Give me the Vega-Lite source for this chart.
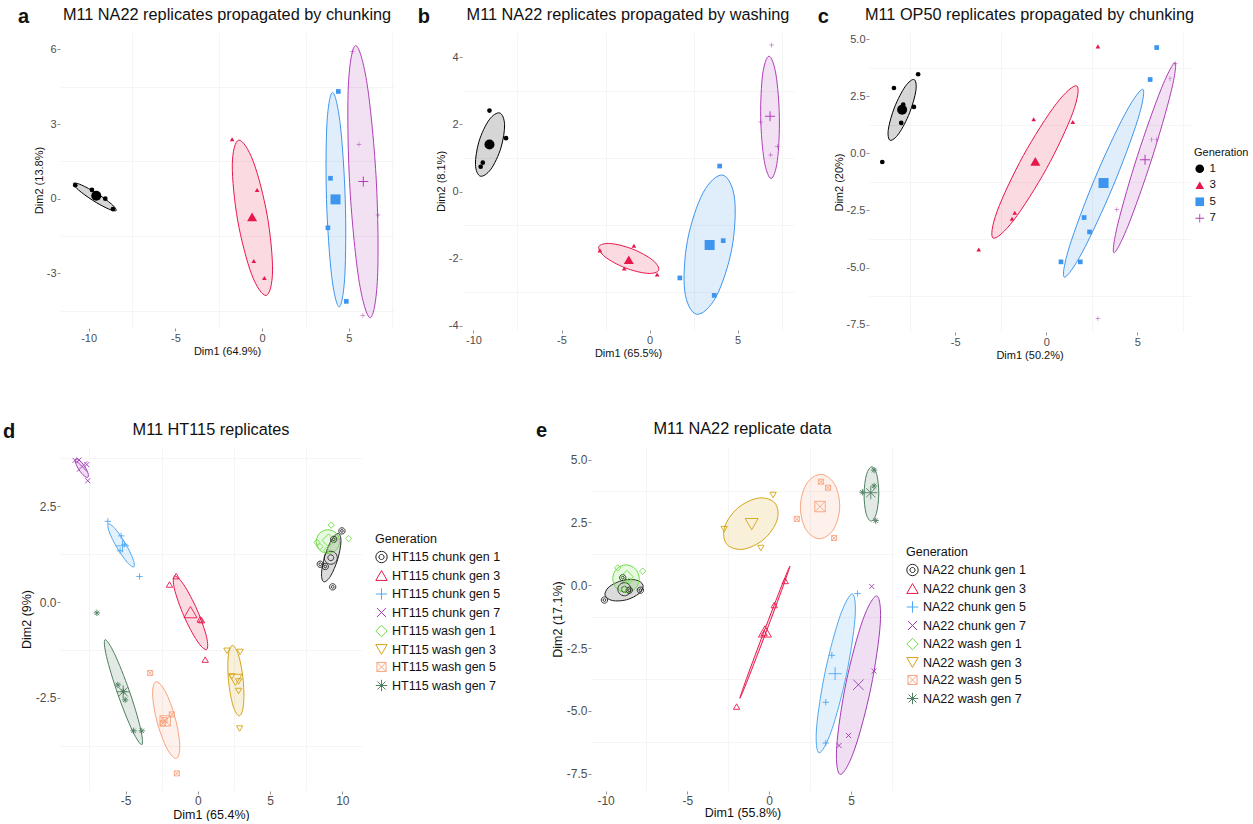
{
"$schema": "https://vega.github.io/schema/vega-lite/v6.json",
"background": "white",
"padding": {"left": 2, "top": 6, "right": 0, "bottom": 0},
"config": {
  "font": "Liberation Sans",
  "locale": {"number": {"decimal": ".", "thousands": ",", "grouping": [3], "currency": ["$", ""], "minus": "-"}},
  "view": {"stroke": null},
  "axis": {"domain": false, "grid": true, "gridColor": "#E6E6E6", "gridWidth": 0.8, "tickColor": "#777777", "tickSize": 3, "tickWidth": 0.8, "labelColor": "#4D4D4D", "labelFontSize": 11, "titleFontSize": 11, "titleFontWeight": "normal", "titleColor": "#111111", "labelPadding": 1, "titlePadding": 2},
  "title": {"fontSize": 16.3, "fontWeight": "normal", "anchor": "middle", "offset": 9, "color": "#111111"},
  "legend": {"titleFontWeight": "normal", "titleColor": "#111111", "labelColor": "#111111"}
},
"datasets": {
  "a_pts": [
    {"g":"1","x":-10.77,"y":0.54,"m":"p"},{"g":"1","x":-9.81,"y":0.35,"m":"p"},{"g":"1","x":-9.04,"y":0.0,"m":"p"},{"g":"1","x":-8.6,"y":-0.42,"m":"p"},{"g":"1","x":-9.56,"y":0.12,"m":"m"},
    {"g":"3","x":-1.73,"y":2.39,"m":"p"},{"g":"3","x":-0.29,"y":0.35,"m":"p"},{"g":"3","x":-0.48,"y":-2.51,"m":"p"},{"g":"3","x":0.13,"y":-3.19,"m":"p"},{"g":"3","x":-0.58,"y":-0.73,"m":"m"},
    {"g":"5","x":4.39,"y":4.31,"m":"p"},{"g":"5","x":3.94,"y":0.82,"m":"p"},{"g":"5","x":3.79,"y":-1.17,"m":"p"},{"g":"5","x":4.85,"y":-4.13,"m":"p"},{"g":"5","x":4.23,"y":-0.03,"m":"m"},
    {"g":"7","x":5.19,"y":5.91,"m":"p"},{"g":"7","x":5.58,"y":2.19,"m":"p"},{"g":"7","x":6.68,"y":-0.66,"m":"p"},{"g":"7","x":5.81,"y":-4.69,"m":"p"},{"g":"7","x":5.83,"y":0.69,"m":"m"}
  ],
  "a_ell": [
    {"g":"1","i":0,"x":-8.41,"y":-0.475},{"g":"1","i":1,"x":-8.855,"y":-0.414},{"g":"1","i":2,"x":-9.76,"y":-0.07},{"g":"1","i":3,"x":-10.595,"y":0.356},{"g":"1","i":4,"x":-10.87,"y":0.615},{"g":"1","i":5,"x":-10.425,"y":0.554},{"g":"1","i":6,"x":-9.52,"y":0.21},{"g":"1","i":7,"x":-8.685,"y":-0.216},
    {"g":"3","i":0,"x":-1.35,"y":2.35},{"g":"3","i":1,"x":-0.518,"y":1.51},{"g":"3","i":2,"x":0.29,"y":-0.665},{"g":"3","i":3,"x":0.6,"y":-2.902},{"g":"3","i":4,"x":0.23,"y":-3.89},{"g":"3","i":5,"x":-0.602,"y":-3.05},{"g":"3","i":6,"x":-1.41,"y":-0.875},{"g":"3","i":7,"x":-1.72,"y":1.362},
    {"g":"5","i":0,"x":4.06,"y":4.27},{"g":"5","i":1,"x":4.497,"y":3.008},{"g":"5","i":2,"x":4.79,"y":-0.04},{"g":"5","i":3,"x":4.766,"y":-3.088},{"g":"5","i":4,"x":4.44,"y":-4.35},{"g":"5","i":5,"x":4.003,"y":-3.088},{"g":"5","i":6,"x":3.71,"y":-0.04},{"g":"5","i":7,"x":3.734,"y":3.008},
    {"g":"7","i":0,"x":5.39,"y":6.155},{"g":"7","i":1,"x":6.057,"y":4.574},{"g":"7","i":2,"x":6.58,"y":0.715},{"g":"7","i":3,"x":6.651,"y":-3.162},{"g":"7","i":4,"x":6.23,"y":-4.785},{"g":"7","i":5,"x":5.563,"y":-3.204},{"g":"7","i":6,"x":5.04,"y":0.655},{"g":"7","i":7,"x":4.969,"y":4.532}
  ],
  "b_pts": [
    {"g":"1","x":-9.09,"y":2.41,"m":"p"},{"g":"1","x":-8.15,"y":1.59,"m":"p"},{"g":"1","x":-9.47,"y":0.86,"m":"p"},{"g":"1","x":-9.59,"y":0.74,"m":"p"},{"g":"1","x":-9.09,"y":1.4,"m":"m"},
    {"g":"3","x":-2.82,"y":-1.75,"m":"p"},{"g":"3","x":-0.89,"y":-1.61,"m":"p"},{"g":"3","x":0.43,"y":-2.47,"m":"p"},{"g":"3","x":-1.44,"y":-2.29,"m":"p"},{"g":"3","x":-1.18,"y":-2.03,"m":"m"},
    {"g":"5","x":3.98,"y":0.76,"m":"p"},{"g":"5","x":4.18,"y":-1.46,"m":"p"},{"g":"5","x":1.72,"y":-2.57,"m":"p"},{"g":"5","x":3.67,"y":-3.09,"m":"p"},{"g":"5","x":3.41,"y":-1.59,"m":"m"},
    {"g":"7","x":6.93,"y":4.36,"m":"p"},{"g":"7","x":6.31,"y":2.07,"m":"p"},{"g":"7","x":7.25,"y":1.35,"m":"p"},{"g":"7","x":6.88,"y":1.09,"m":"p"},{"g":"7","x":6.84,"y":2.24,"m":"m"}
  ],
  "b_ell": [
    {"g":"1","i":0,"x":-8.51,"y":2.34},{"g":"1","i":1,"x":-8.233,"y":1.994},{"g":"1","i":2,"x":-8.44,"y":1.3},{"g":"1","i":3,"x":-9.011,"y":0.665},{"g":"1","i":4,"x":-9.61,"y":0.46},{"g":"1","i":5,"x":-9.887,"y":0.806},{"g":"1","i":6,"x":-9.68,"y":1.5},{"g":"1","i":7,"x":-9.109,"y":2.135},
    {"g":"3","i":0,"x":0.52,"y":-2.34},{"g":"3","i":1,"x":-0.126,"y":-2.435},{"g":"3","i":2,"x":-1.39,"y":-2.27},{"g":"3","i":3,"x":-2.531,"y":-1.941},{"g":"3","i":4,"x":-2.88,"y":-1.64},{"g":"3","i":5,"x":-2.234,"y":-1.545},{"g":"3","i":6,"x":-0.97,"y":-1.71},{"g":"3","i":7,"x":0.171,"y":-2.039},
    {"g":"5","i":0,"x":4.15,"y":0.49},{"g":"5","i":1,"x":4.824,"y":-0.201},{"g":"5","i":2,"x":4.67,"y":-1.7},{"g":"5","i":3,"x":3.778,"y":-3.129},{"g":"5","i":4,"x":2.67,"y":-3.65},{"g":"5","i":5,"x":1.996,"y":-2.959},{"g":"5","i":6,"x":2.15,"y":-1.46},{"g":"5","i":7,"x":3.042,"y":-0.031},
    {"g":"7","i":0,"x":6.78,"y":4.03},{"g":"7","i":1,"x":7.172,"y":3.497},{"g":"7","i":2,"x":7.37,"y":2.21},{"g":"7","i":3,"x":7.257,"y":0.923},{"g":"7","i":4,"x":6.9,"y":0.39},{"g":"7","i":5,"x":6.508,"y":0.923},{"g":"7","i":6,"x":6.31,"y":2.21},{"g":"7","i":7,"x":6.423,"y":3.497}
  ],
  "c_pts": [
    {"g":"1","x":-8.37,"y":2.86,"m":"p"},{"g":"1","x":-7.04,"y":3.46,"m":"p"},{"g":"1","x":-7.27,"y":2.03,"m":"p"},{"g":"1","x":-7.86,"y":2.13,"m":"p"},{"g":"1","x":-7.97,"y":1.33,"m":"p"},{"g":"1","x":-9.01,"y":-0.38,"m":"p"},{"g":"1","x":-7.92,"y":1.91,"m":"m"},
    {"g":"3","x":2.84,"y":4.68,"m":"p"},{"g":"3","x":-0.69,"y":1.49,"m":"p"},{"g":"3","x":1.46,"y":1.37,"m":"p"},{"g":"3","x":-1.73,"y":-2.6,"m":"p"},{"g":"3","x":-1.88,"y":-2.86,"m":"p"},{"g":"3","x":-3.71,"y":-4.21,"m":"p"},{"g":"3","x":-0.6,"y":-0.35,"m":"m"},
    {"g":"5","x":6.07,"y":4.63,"m":"p"},{"g":"5","x":5.71,"y":3.23,"m":"p"},{"g":"5","x":2.08,"y":-2.81,"m":"p"},{"g":"5","x":2.38,"y":-3.44,"m":"p"},{"g":"5","x":0.81,"y":-4.75,"m":"p"},{"g":"5","x":1.87,"y":-4.75,"m":"p"},{"g":"5","x":3.15,"y":-1.3,"m":"m"},
    {"g":"7","x":7.08,"y":3.93,"m":"p"},{"g":"7","x":6.8,"y":3.27,"m":"p"},{"g":"7","x":5.8,"y":0.6,"m":"p"},{"g":"7","x":6.07,"y":0.6,"m":"p"},{"g":"7","x":3.88,"y":-2.46,"m":"p"},{"g":"7","x":2.84,"y":-7.23,"m":"p"},{"g":"7","x":5.43,"y":-0.28,"m":"m"}
  ],
  "c_ell": [
    {"g":"1","i":0,"x":-7.26,"y":3.23},{"g":"1","i":1,"x":-7.163,"y":2.749},{"g":"1","i":2,"x":-7.51,"y":1.77},{"g":"1","i":3,"x":-8.097,"y":0.868},{"g":"1","i":4,"x":-8.58,"y":0.57},{"g":"1","i":5,"x":-8.677,"y":1.051},{"g":"1","i":6,"x":-8.33,"y":2.03},{"g":"1","i":7,"x":-7.743,"y":2.932},
    {"g":"3","i":0,"x":1.68,"y":2.95},{"g":"3","i":1,"x":1.459,"y":1.777},{"g":"3","i":2,"x":0.02,"y":-0.66},{"g":"3","i":3,"x":-1.794,"y":-2.933},{"g":"3","i":4,"x":-2.92,"y":-3.71},{"g":"3","i":5,"x":-2.699,"y":-2.537},{"g":"3","i":6,"x":-1.26,"y":-0.1},{"g":"3","i":7,"x":0.554,"y":2.173},
    {"g":"5","i":0,"x":5.31,"y":2.8},{"g":"5","i":1,"x":5.031,"y":1.476},{"g":"5","i":2,"x":3.65,"y":-1.48},{"g":"5","i":3,"x":1.976,"y":-4.336},{"g":"5","i":4,"x":0.99,"y":-5.42},{"g":"5","i":5,"x":1.269,"y":-4.096},{"g":"5","i":6,"x":2.65,"y":-1.14},{"g":"5","i":7,"x":4.324,"y":1.716},
    {"g":"7","i":0,"x":7.08,"y":3.97},{"g":"7","i":1,"x":6.857,"y":2.681},{"g":"7","i":2,"x":5.78,"y":-0.29},{"g":"7","i":3,"x":4.481,"y":-3.202},{"g":"7","i":4,"x":3.72,"y":-4.35},{"g":"7","i":5,"x":3.943,"y":-3.061},{"g":"7","i":6,"x":5.02,"y":-0.09},{"g":"7","i":7,"x":6.319,"y":2.822}
  ],
  "d_pts": [
    {"g":"HT115 chunk gen 1","x":9.97,"y":1.86,"m":"p"},{"g":"HT115 chunk gen 1","x":9.4,"y":1.64,"m":"p"},{"g":"HT115 chunk gen 1","x":8.47,"y":0.99,"m":"p"},{"g":"HT115 chunk gen 1","x":8.82,"y":0.93,"m":"p"},{"g":"HT115 chunk gen 1","x":9.33,"y":0.4,"m":"p"},{"g":"HT115 chunk gen 1","x":9.2,"y":1.16,"m":"m"},
    {"g":"HT115 chunk gen 3","x":-1.5,"y":0.68,"m":"p"},{"g":"HT115 chunk gen 3","x":-1.96,"y":0.46,"m":"p"},{"g":"HT115 chunk gen 3","x":0.16,"y":-0.45,"m":"p"},{"g":"HT115 chunk gen 3","x":0.26,"y":-0.47,"m":"p"},{"g":"HT115 chunk gen 3","x":0.51,"y":-1.5,"m":"p"},{"g":"HT115 chunk gen 3","x":-0.51,"y":-0.26,"m":"m"},
    {"g":"HT115 chunk gen 5","x":-6.23,"y":2.11,"m":"p"},{"g":"HT115 chunk gen 5","x":-5.31,"y":1.73,"m":"p"},{"g":"HT115 chunk gen 5","x":-5.08,"y":1.51,"m":"p"},{"g":"HT115 chunk gen 5","x":-5.38,"y":1.34,"m":"p"},{"g":"HT115 chunk gen 5","x":-4.04,"y":0.67,"m":"p"},{"g":"HT115 chunk gen 5","x":-5.21,"y":1.47,"m":"m"},
    {"g":"HT115 chunk gen 7","x":-8.5,"y":3.7,"m":"p"},{"g":"HT115 chunk gen 7","x":-8.22,"y":3.71,"m":"p"},{"g":"HT115 chunk gen 7","x":-7.69,"y":3.59,"m":"p"},{"g":"HT115 chunk gen 7","x":-7.62,"y":3.17,"m":"p"},{"g":"HT115 chunk gen 7","x":-8.01,"y":3.54,"m":"m"},
    {"g":"HT115 wash gen 1","x":9.23,"y":2.01,"m":"p"},{"g":"HT115 wash gen 1","x":10.43,"y":1.66,"m":"p"},{"g":"HT115 wash gen 1","x":8.24,"y":1.56,"m":"p"},{"g":"HT115 wash gen 1","x":8.45,"y":1.45,"m":"p"},{"g":"HT115 wash gen 1","x":8.9,"y":1.35,"m":"p"},{"g":"HT115 wash gen 1","x":9.05,"y":1.61,"m":"m"},
    {"g":"HT115 wash gen 3","x":2.01,"y":-1.27,"m":"p"},{"g":"HT115 wash gen 3","x":2.93,"y":-1.3,"m":"p"},{"g":"HT115 wash gen 3","x":2.35,"y":-1.94,"m":"p"},{"g":"HT115 wash gen 3","x":2.82,"y":-2.07,"m":"p"},{"g":"HT115 wash gen 3","x":2.82,"y":-2.32,"m":"p"},{"g":"HT115 wash gen 3","x":2.89,"y":-3.3,"m":"p"},{"g":"HT115 wash gen 3","x":2.6,"y":-2.03,"m":"m"},
    {"g":"HT115 wash gen 5","x":-3.3,"y":-1.85,"m":"p"},{"g":"HT115 wash gen 5","x":-1.8,"y":-2.93,"m":"p"},{"g":"HT115 wash gen 5","x":-2.31,"y":-3.08,"m":"p"},{"g":"HT115 wash gen 5","x":-2.42,"y":-3.16,"m":"p"},{"g":"HT115 wash gen 5","x":-1.45,"y":-4.47,"m":"p"},{"g":"HT115 wash gen 5","x":-2.26,"y":-3.1,"m":"m"},
    {"g":"HT115 wash gen 7","x":-6.99,"y":-0.28,"m":"p"},{"g":"HT115 wash gen 7","x":-5.54,"y":-2.16,"m":"p"},{"g":"HT115 wash gen 7","x":-5.15,"y":-2.33,"m":"p"},{"g":"HT115 wash gen 7","x":-5.03,"y":-2.55,"m":"p"},{"g":"HT115 wash gen 7","x":-4.45,"y":-3.36,"m":"p"},{"g":"HT115 wash gen 7","x":-3.88,"y":-3.36,"m":"p"},{"g":"HT115 wash gen 7","x":-5.17,"y":-2.34,"m":"m"}
  ],
  "d_ell": [
    {"g":"HT115 chunk gen 1","i":0,"x":9.74,"y":1.79},{"g":"HT115 chunk gen 1","i":1,"x":9.902,"y":1.57},{"g":"HT115 chunk gen 1","i":2,"x":9.67,"y":1.11},{"g":"HT115 chunk gen 1","i":3,"x":9.181,"y":0.679},{"g":"HT115 chunk gen 1","i":4,"x":8.72,"y":0.53},{"g":"HT115 chunk gen 1","i":5,"x":8.558,"y":0.75},{"g":"HT115 chunk gen 1","i":6,"x":8.79,"y":1.21},{"g":"HT115 chunk gen 1","i":7,"x":9.279,"y":1.641},
    {"g":"HT115 chunk gen 3","i":0,"x":-1.62,"y":0.68},{"g":"HT115 chunk gen 3","i":1,"x":-0.97,"y":0.453},{"g":"HT115 chunk gen 3","i":2,"x":-0.05,"y":-0.203},{"g":"HT115 chunk gen 3","i":3,"x":0.6,"y":-0.904},{"g":"HT115 chunk gen 3","i":4,"x":0.6,"y":-1.24},{"g":"HT115 chunk gen 3","i":5,"x":-0.05,"y":-1.013},{"g":"HT115 chunk gen 3","i":6,"x":-0.97,"y":-0.357},{"g":"HT115 chunk gen 3","i":7,"x":-1.62,"y":0.344},
    {"g":"HT115 chunk gen 5","i":0,"x":-6.19,"y":2.04},{"g":"HT115 chunk gen 5","i":1,"x":-5.734,"y":1.921},{"g":"HT115 chunk gen 5","i":2,"x":-5.03,"y":1.543},{"g":"HT115 chunk gen 5","i":3,"x":-4.49,"y":1.129},{"g":"HT115 chunk gen 5","i":4,"x":-4.43,"y":0.92},{"g":"HT115 chunk gen 5","i":5,"x":-4.886,"y":1.039},{"g":"HT115 chunk gen 5","i":6,"x":-5.59,"y":1.417},{"g":"HT115 chunk gen 5","i":7,"x":-6.13,"y":1.831},
    {"g":"HT115 chunk gen 7","i":0,"x":-8.45,"y":3.74},{"g":"HT115 chunk gen 7","i":1,"x":-8.193,"y":3.703},{"g":"HT115 chunk gen 7","i":2,"x":-7.84,"y":3.547},{"g":"HT115 chunk gen 7","i":3,"x":-7.599,"y":3.364},{"g":"HT115 chunk gen 7","i":4,"x":-7.61,"y":3.26},{"g":"HT115 chunk gen 7","i":5,"x":-7.867,"y":3.297},{"g":"HT115 chunk gen 7","i":6,"x":-8.22,"y":3.453},{"g":"HT115 chunk gen 7","i":7,"x":-8.461,"y":3.636},
    {"g":"HT115 wash gen 1","i":0,"x":9.81,"y":1.58},{"g":"HT115 wash gen 1","i":1,"x":9.573,"y":1.799},{"g":"HT115 wash gen 1","i":2,"x":9.0,"y":1.89},{"g":"HT115 wash gen 1","i":3,"x":8.427,"y":1.799},{"g":"HT115 wash gen 1","i":4,"x":8.19,"y":1.58},{"g":"HT115 wash gen 1","i":5,"x":8.427,"y":1.361},{"g":"HT115 wash gen 1","i":6,"x":9.0,"y":1.27},{"g":"HT115 wash gen 1","i":7,"x":9.573,"y":1.361},
    {"g":"HT115 wash gen 3","i":0,"x":2.4,"y":-1.13},{"g":"HT115 wash gen 3","i":1,"x":2.828,"y":-1.399},{"g":"HT115 wash gen 3","i":2,"x":3.14,"y":-2.05},{"g":"HT115 wash gen 3","i":3,"x":3.153,"y":-2.701},{"g":"HT115 wash gen 3","i":4,"x":2.86,"y":-2.97},{"g":"HT115 wash gen 3","i":5,"x":2.432,"y":-2.701},{"g":"HT115 wash gen 3","i":6,"x":2.12,"y":-2.05},{"g":"HT115 wash gen 3","i":7,"x":2.107,"y":-1.399},
    {"g":"HT115 wash gen 5","i":0,"x":-2.9,"y":-2.08},{"g":"HT115 wash gen 5","i":1,"x":-2.254,"y":-2.328},{"g":"HT115 wash gen 5","i":2,"x":-1.57,"y":-3.017},{"g":"HT115 wash gen 5","i":3,"x":-1.25,"y":-3.743},{"g":"HT115 wash gen 5","i":4,"x":-1.48,"y":-4.08},{"g":"HT115 wash gen 5","i":5,"x":-2.126,"y":-3.832},{"g":"HT115 wash gen 5","i":6,"x":-2.81,"y":-3.143},{"g":"HT115 wash gen 5","i":7,"x":-3.13,"y":-2.417},
    {"g":"HT115 wash gen 7","i":0,"x":-6.42,"y":-0.98},{"g":"HT115 wash gen 7","i":1,"x":-5.772,"y":-1.344},{"g":"HT115 wash gen 7","i":2,"x":-4.76,"y":-2.298},{"g":"HT115 wash gen 7","i":3,"x":-3.976,"y":-3.282},{"g":"HT115 wash gen 7","i":4,"x":-3.88,"y":-3.72},{"g":"HT115 wash gen 7","i":5,"x":-4.528,"y":-3.356},{"g":"HT115 wash gen 7","i":6,"x":-5.54,"y":-2.402},{"g":"HT115 wash gen 7","i":7,"x":-6.324,"y":-1.418}
  ],
  "e_pts": [
    {"g":"NA22 chunk gen 1","x":-10.07,"y":-0.59,"m":"p"},{"g":"NA22 chunk gen 1","x":-7.87,"y":-0.2,"m":"p"},{"g":"NA22 chunk gen 1","x":-8.95,"y":0.3,"m":"p"},{"g":"NA22 chunk gen 1","x":-8.55,"y":-0.2,"m":"p"},{"g":"NA22 chunk gen 1","x":-8.85,"y":-0.16,"m":"m"},
    {"g":"NA22 chunk gen 3","x":-1.99,"y":-4.83,"m":"p"},{"g":"NA22 chunk gen 3","x":-0.31,"y":-1.9,"m":"p"},{"g":"NA22 chunk gen 3","x":0.31,"y":-0.79,"m":"p"},{"g":"NA22 chunk gen 3","x":0.98,"y":0.17,"m":"p"},{"g":"NA22 chunk gen 3","x":-0.26,"y":-1.84,"m":"m"},
    {"g":"NA22 chunk gen 5","x":5.4,"y":-0.33,"m":"p"},{"g":"NA22 chunk gen 5","x":3.83,"y":-2.79,"m":"p"},{"g":"NA22 chunk gen 5","x":3.46,"y":-4.66,"m":"p"},{"g":"NA22 chunk gen 5","x":3.46,"y":-6.28,"m":"p"},{"g":"NA22 chunk gen 5","x":4.03,"y":-3.52,"m":"m"},
    {"g":"NA22 chunk gen 7","x":6.27,"y":-0.05,"m":"p"},{"g":"NA22 chunk gen 7","x":6.41,"y":-3.42,"m":"p"},{"g":"NA22 chunk gen 7","x":4.85,"y":-5.98,"m":"p"},{"g":"NA22 chunk gen 7","x":4.27,"y":-6.38,"m":"p"},{"g":"NA22 chunk gen 7","x":5.45,"y":-3.96,"m":"m"},
    {"g":"NA22 wash gen 1","x":-9.26,"y":0.69,"m":"p"},{"g":"NA22 wash gen 1","x":-7.73,"y":0.56,"m":"p"},{"g":"NA22 wash gen 1","x":-8.85,"y":-0.16,"m":"p"},{"g":"NA22 wash gen 1","x":-8.55,"y":0.17,"m":"p"},{"g":"NA22 wash gen 1","x":-8.7,"y":0.33,"m":"m"},
    {"g":"NA22 wash gen 3","x":0.24,"y":3.59,"m":"p"},{"g":"NA22 wash gen 3","x":-2.75,"y":2.23,"m":"p"},{"g":"NA22 wash gen 3","x":-0.51,"y":1.48,"m":"p"},{"g":"NA22 wash gen 3","x":-1.07,"y":2.43,"m":"m"},
    {"g":"NA22 wash gen 5","x":3.16,"y":4.12,"m":"p"},{"g":"NA22 wash gen 5","x":3.6,"y":3.88,"m":"p"},{"g":"NA22 wash gen 5","x":1.69,"y":2.64,"m":"p"},{"g":"NA22 wash gen 5","x":3.97,"y":1.88,"m":"p"},{"g":"NA22 wash gen 5","x":3.11,"y":3.13,"m":"m"},
    {"g":"NA22 wash gen 7","x":6.41,"y":4.58,"m":"p"},{"g":"NA22 wash gen 7","x":5.7,"y":3.7,"m":"p"},{"g":"NA22 wash gen 7","x":6.41,"y":3.95,"m":"p"},{"g":"NA22 wash gen 7","x":6.51,"y":2.57,"m":"p"},{"g":"NA22 wash gen 7","x":6.21,"y":3.68,"m":"m"}
  ],
  "e_ell": [
    {"g":"NA22 chunk gen 1","i":0,"x":-7.71,"y":0.0},{"g":"NA22 chunk gen 1","i":1,"x":-7.944,"y":-0.327},{"g":"NA22 chunk gen 1","i":2,"x":-8.72,"y":-0.58},{"g":"NA22 chunk gen 1","i":3,"x":-9.584,"y":-0.61},{"g":"NA22 chunk gen 1","i":4,"x":-10.03,"y":-0.4},{"g":"NA22 chunk gen 1","i":5,"x":-9.796,"y":-0.073},{"g":"NA22 chunk gen 1","i":6,"x":-9.02,"y":0.18},{"g":"NA22 chunk gen 1","i":7,"x":-8.156,"y":0.21},
    {"g":"NA22 chunk gen 3","i":0,"x":1.27,"y":0.76},{"g":"NA22 chunk gen 3","i":1,"x":0.864,"y":-0.024},{"g":"NA22 chunk gen 3","i":2,"x":-0.2,"y":-1.89},{"g":"NA22 chunk gen 3","i":3,"x":-1.299,"y":-3.744},{"g":"NA22 chunk gen 3","i":4,"x":-1.79,"y":-4.5},{"g":"NA22 chunk gen 3","i":5,"x":-1.384,"y":-3.716},{"g":"NA22 chunk gen 3","i":6,"x":-0.32,"y":-1.85},{"g":"NA22 chunk gen 3","i":7,"x":0.779,"y":0.004},
    {"g":"NA22 chunk gen 5","i":0,"x":5.09,"y":-0.35},{"g":"NA22 chunk gen 5","i":1,"x":5.244,"y":-1.336},{"g":"NA22 chunk gen 5","i":2,"x":4.71,"y":-3.596},{"g":"NA22 chunk gen 5","i":3,"x":3.801,"y":-5.805},{"g":"NA22 chunk gen 5","i":4,"x":3.05,"y":-6.67},{"g":"NA22 chunk gen 5","i":5,"x":2.896,"y":-5.684},{"g":"NA22 chunk gen 5","i":6,"x":3.43,"y":-3.424},{"g":"NA22 chunk gen 5","i":7,"x":4.339,"y":-1.215},
    {"g":"NA22 chunk gen 7","i":0,"x":6.58,"y":-0.43},{"g":"NA22 chunk gen 7","i":1,"x":6.789,"y":-1.54},{"g":"NA22 chunk gen 7","i":2,"x":6.22,"y":-4.08},{"g":"NA22 chunk gen 7","i":3,"x":5.205,"y":-6.561},{"g":"NA22 chunk gen 7","i":4,"x":4.34,"y":-7.53},{"g":"NA22 chunk gen 7","i":5,"x":4.131,"y":-6.42},{"g":"NA22 chunk gen 7","i":6,"x":4.7,"y":-3.88},{"g":"NA22 chunk gen 7","i":7,"x":5.715,"y":-1.399},
    {"g":"NA22 wash gen 1","i":0,"x":-7.94,"y":0.26},{"g":"NA22 wash gen 1","i":1,"x":-8.177,"y":0.649},{"g":"NA22 wash gen 1","i":2,"x":-8.75,"y":0.81},{"g":"NA22 wash gen 1","i":3,"x":-9.323,"y":0.649},{"g":"NA22 wash gen 1","i":4,"x":-9.56,"y":0.26},{"g":"NA22 wash gen 1","i":5,"x":-9.323,"y":-0.129},{"g":"NA22 wash gen 1","i":6,"x":-8.75,"y":-0.29},{"g":"NA22 wash gen 1","i":7,"x":-8.177,"y":-0.129},
    {"g":"NA22 wash gen 3","i":0,"x":0.35,"y":3.27},{"g":"NA22 wash gen 3","i":1,"x":0.485,"y":2.591},{"g":"NA22 wash gen 3","i":2,"x":-0.32,"y":1.83},{"g":"NA22 wash gen 3","i":3,"x":-1.594,"y":1.432},{"g":"NA22 wash gen 3","i":4,"x":-2.59,"y":1.63},{"g":"NA22 wash gen 3","i":5,"x":-2.725,"y":2.309},{"g":"NA22 wash gen 3","i":6,"x":-1.92,"y":3.07},{"g":"NA22 wash gen 3","i":7,"x":-0.646,"y":3.468},
    {"g":"NA22 wash gen 5","i":0,"x":3.19,"y":4.41},{"g":"NA22 wash gen 5","i":1,"x":4.015,"y":4.0},{"g":"NA22 wash gen 5","i":2,"x":4.31,"y":3.08},{"g":"NA22 wash gen 5","i":3,"x":3.902,"y":2.19},{"g":"NA22 wash gen 5","i":4,"x":3.03,"y":1.85},{"g":"NA22 wash gen 5","i":5,"x":2.205,"y":2.26},{"g":"NA22 wash gen 5","i":6,"x":1.91,"y":3.18},{"g":"NA22 wash gen 5","i":7,"x":2.318,"y":4.07},
    {"g":"NA22 wash gen 7","i":0,"x":6.27,"y":4.71},{"g":"NA22 wash gen 7","i":1,"x":6.582,"y":4.394},{"g":"NA22 wash gen 7","i":2,"x":6.7,"y":3.63},{"g":"NA22 wash gen 7","i":3,"x":6.554,"y":2.866},{"g":"NA22 wash gen 7","i":4,"x":6.23,"y":2.55},{"g":"NA22 wash gen 7","i":5,"x":5.918,"y":2.866},{"g":"NA22 wash gen 7","i":6,"x":5.8,"y":3.63},{"g":"NA22 wash gen 7","i":7,"x":5.946,"y":4.394}
  ]
},
"resolve": {"scale": {"color": "independent", "shape": "independent", "size": "independent", "stroke": "independent", "fill": "independent"}},
"columns": 1,
"align": "none",
"spacing": {"row": 60, "column": 0},
"concat": [
 {"resolve": {"scale": {"color": "independent", "shape": "independent", "size": "independent", "stroke": "independent", "fill": "independent"}},
  "columns": 3, "align": "none", "spacing": 23,
  "concat": [
  {"title": {"text": "a", "orient": "left", "anchor": "end", "angle": 0, "align": "right", "baseline": "top", "fontSize": 20, "fontWeight": "bold", "offset": -7},
   "resolve": {"scale": {"color": "independent", "shape": "independent", "size": "independent", "stroke": "independent", "fill": "independent"}},
   "hconcat": [{
    "width": 334, "height": 296,
    "title": "M11 NA22 replicates propagated by chunking",
    "resolve": {"axis": {"x": "independent", "y": "independent"}},
    "layer": [
     {"mark": {"type": "rule", "strokeDash": [3, 3], "color": "#444444", "strokeWidth": 0.8},
      "encoding": {"y": {"datum": 0, "type": "quantitative", "scale": {"domain": [-5.2, 6.7], "nice": false, "zero": false}, "axis": {"orient": "left", "values": [4.5, 1.5, -1.5, -4.5], "labels": false, "ticks": false, "title": null, "gridColor": "#F3F3F3"}}}},
     {"mark": {"type": "rule", "strokeDash": [3, 3], "color": "#444444", "strokeWidth": 0.8},
      "encoding": {"x": {"datum": 0, "type": "quantitative", "scale": {"domain": [-11.65, 7.6], "nice": false, "zero": false}, "axis": {"orient": "bottom", "values": [-7.5, -2.5, 2.5, 7.5], "labels": false, "ticks": false, "title": null, "gridColor": "#F3F3F3"}}}},
     {"data": {"name": "a_ell"},
      "mark": {"type": "line", "interpolate": "cardinal-closed", "strokeWidth": 1, "fillOpacity": 0.16},
      "encoding": {
        "x": {"field": "x", "type": "quantitative", "axis": null},
        "y": {"field": "y", "type": "quantitative", "axis": null},
        "order": {"field": "i"},
        "stroke": {"field": "g", "type": "nominal", "scale": {"domain": ["1","3","5","7","_"], "range": ["#000000","#E8174B","#3D95EE","#B03DB6","#000000"]}, "legend": null},
        "fill": {"field": "g", "type": "nominal", "scale": {"domain": ["1","3","5","7","__"], "range": ["#000000","#E8174B","#3D95EE","#B03DB6","#000000"]}, "legend": null}}},
     {"data": {"name": "a_pts"},
      "mark": {"type": "point", "filled": true, "opacity": 1, "strokeWidth": 0},
      "encoding": {
        "x": {"field": "x", "type": "quantitative", "axis": {"orient": "bottom", "values": [-10, -5, 0, 5], "title": "Dim1 (64.9%)"}},
        "y": {"field": "y", "type": "quantitative", "axis": {"orient": "left", "values": [-3, 0, 3, 6], "title": "Dim2 (13.8%)"}},
        "color": {"field": "g", "type": "nominal", "scale": {"domain": ["1","3","5","7"], "range": ["#000000","#E8174B","#3D95EE","#B03DB6"]}, "legend": null},
        "shape": {"field": "g", "type": "nominal", "scale": {"domain": ["1","3","5","7"], "range": ["circle","triangle-up","square","M-1,-0.1L-0.1,-0.1L-0.1,-1L0.1,-1L0.1,-0.1L1,-0.1L1,0.1L0.1,0.1L0.1,1L-0.1,1L-0.1,0.1L-1,0.1Z"]}, "legend": null},
        "size": {"field": "m", "type": "nominal", "scale": {"domain": ["p","m"], "range": [22, 100]}, "legend": null}}}
    ]}]},
  {"title": {"text": "b", "orient": "left", "anchor": "end", "angle": 0, "align": "right", "baseline": "top", "fontSize": 20, "fontWeight": "bold", "offset": -7},
   "resolve": {"scale": {"color": "independent", "shape": "independent", "size": "independent", "stroke": "independent", "fill": "independent"}},
   "hconcat": [{
    "width": 332, "height": 298,
    "title": "M11 NA22 replicates propagated by washing",
    "resolve": {"axis": {"x": "independent", "y": "independent"}},
    "layer": [
     {"mark": {"type": "rule", "strokeDash": [3, 3], "color": "#444444", "strokeWidth": 0.8},
      "encoding": {"y": {"datum": 0, "type": "quantitative", "scale": {"domain": [-4.12, 4.75], "nice": false, "zero": false}, "axis": {"orient": "left", "values": [3, 1, -1, -3], "labels": false, "ticks": false, "title": null, "gridColor": "#F3F3F3"}}}},
     {"mark": {"type": "rule", "strokeDash": [3, 3], "color": "#444444", "strokeWidth": 0.8},
      "encoding": {"x": {"datum": 0, "type": "quantitative", "scale": {"domain": [-10.65, 8.2], "nice": false, "zero": false}, "axis": {"orient": "bottom", "values": [-7.5, -2.5, 2.5, 7.5], "labels": false, "ticks": false, "title": null, "gridColor": "#F3F3F3"}}}},
     {"data": {"name": "b_ell"},
      "mark": {"type": "line", "interpolate": "cardinal-closed", "strokeWidth": 1, "fillOpacity": 0.16},
      "encoding": {
        "x": {"field": "x", "type": "quantitative", "axis": null},
        "y": {"field": "y", "type": "quantitative", "axis": null},
        "order": {"field": "i"},
        "stroke": {"field": "g", "type": "nominal", "scale": {"domain": ["1","3","5","7","_"], "range": ["#000000","#E8174B","#3D95EE","#B03DB6","#000000"]}, "legend": null},
        "fill": {"field": "g", "type": "nominal", "scale": {"domain": ["1","3","5","7","__"], "range": ["#000000","#E8174B","#3D95EE","#B03DB6","#000000"]}, "legend": null}}},
     {"data": {"name": "b_pts"},
      "mark": {"type": "point", "filled": true, "opacity": 1, "strokeWidth": 0},
      "encoding": {
        "x": {"field": "x", "type": "quantitative", "axis": {"orient": "bottom", "values": [-10, -5, 0, 5], "title": "Dim1 (65.5%)"}},
        "y": {"field": "y", "type": "quantitative", "axis": {"orient": "left", "values": [-4, -2, 0, 2, 4], "title": "Dim2 (8.1%)"}},
        "color": {"field": "g", "type": "nominal", "scale": {"domain": ["1","3","5","7"], "range": ["#000000","#E8174B","#3D95EE","#B03DB6"]}, "legend": null},
        "shape": {"field": "g", "type": "nominal", "scale": {"domain": ["1","3","5","7"], "range": ["circle","triangle-up","square","M-1,-0.1L-0.1,-0.1L-0.1,-1L0.1,-1L0.1,-0.1L1,-0.1L1,0.1L0.1,0.1L0.1,1L-0.1,1L-0.1,0.1L-1,0.1Z"]}, "legend": null},
        "size": {"field": "m", "type": "nominal", "scale": {"domain": ["p","m"], "range": [22, 100]}, "legend": null}}}
    ]}]},
  {"title": {"text": "c", "orient": "left", "anchor": "end", "angle": 0, "align": "right", "baseline": "top", "fontSize": 20, "fontWeight": "bold", "offset": -7},
   "resolve": {"scale": {"color": "independent", "shape": "independent", "size": "independent", "stroke": "independent", "fill": "independent"}},
   "hconcat": [{
    "width": 321, "height": 300,
    "title": "M11 OP50 replicates propagated by chunking",
    "resolve": {"axis": {"x": "independent", "y": "independent"}},
    "layer": [
     {"mark": {"type": "rule", "strokeDash": [3, 3], "color": "#444444", "strokeWidth": 0.8},
      "encoding": {"y": {"datum": 0, "type": "quantitative", "scale": {"domain": [-7.82, 5.31], "nice": false, "zero": false}, "axis": {"orient": "left", "values": [3.75, 1.25, -1.25, -3.75, -6.25], "labels": false, "ticks": false, "title": null, "gridColor": "#F3F3F3"}}}},
     {"mark": {"type": "rule", "strokeDash": [3, 3], "color": "#444444", "strokeWidth": 0.8},
      "encoding": {"x": {"datum": 0, "type": "quantitative", "scale": {"domain": [-9.74, 7.9], "nice": false, "zero": false}, "axis": {"orient": "bottom", "values": [-7.5, -2.5, 2.5, 7.5], "labels": false, "ticks": false, "title": null, "gridColor": "#F3F3F3"}}}},
     {"data": {"name": "c_ell"},
      "mark": {"type": "line", "interpolate": "cardinal-closed", "strokeWidth": 1, "fillOpacity": 0.16},
      "encoding": {
        "x": {"field": "x", "type": "quantitative", "axis": null},
        "y": {"field": "y", "type": "quantitative", "axis": null},
        "order": {"field": "i"},
        "stroke": {"field": "g", "type": "nominal", "scale": {"domain": ["1","3","5","7","_"], "range": ["#000000","#E8174B","#3D95EE","#B03DB6","#000000"]}, "legend": null},
        "fill": {"field": "g", "type": "nominal", "scale": {"domain": ["1","3","5","7","__"], "range": ["#000000","#E8174B","#3D95EE","#B03DB6","#000000"]}, "legend": null}}},
     {"data": {"name": "c_pts"},
      "mark": {"type": "point", "filled": true, "opacity": 1, "strokeWidth": 0},
      "encoding": {
        "x": {"field": "x", "type": "quantitative", "axis": {"orient": "bottom", "values": [-5, 0, 5], "title": "Dim1 (50.2%)"}},
        "y": {"field": "y", "type": "quantitative", "axis": {"orient": "left", "values": [-7.5, -5, -2.5, 0, 2.5, 5], "format": ".1f", "title": "Dim2 (20%)"}},
        "color": {"field": "g", "type": "nominal", "scale": {"domain": ["1","3","5","7"], "range": ["#000000","#E8174B","#3D95EE","#B03DB6"]}, "legend": {"title": "Generation", "orient": "none", "legendX": 325, "legendY": 115, "titleFontSize": 11, "labelFontSize": 11.5, "symbolSize": 75, "rowPadding": 3.5, "titlePadding": 5}},
        "shape": {"field": "g", "type": "nominal", "scale": {"domain": ["1","3","5","7"], "range": ["circle","triangle-up","square","M-1,-0.1L-0.1,-0.1L-0.1,-1L0.1,-1L0.1,-0.1L1,-0.1L1,0.1L0.1,0.1L0.1,1L-0.1,1L-0.1,0.1L-1,0.1Z"]}, "legend": {"title": "Generation", "orient": "none", "legendX": 325, "legendY": 115, "titleFontSize": 11, "labelFontSize": 11.5, "symbolSize": 75, "rowPadding": 3.5, "titlePadding": 5}},
        "size": {"field": "m", "type": "nominal", "scale": {"domain": ["p","m"], "range": [22, 100]}, "legend": null}}}
    ]}]}
 ]},
 {"resolve": {"scale": {"color": "independent", "shape": "independent", "size": "independent", "stroke": "independent", "fill": "independent"}},
  "columns": 2, "align": "none", "spacing": 35,
  "concat": [
  {"title": {"text": "d", "orient": "left", "anchor": "end", "angle": 0, "align": "right", "baseline": "top", "fontSize": 20, "fontWeight": "bold", "offset": -7},
   "resolve": {"scale": {"color": "independent", "shape": "independent", "size": "independent", "stroke": "independent", "fill": "independent"}},
   "hconcat": [{
    "width": 302, "height": 344,
    "title": "M11 HT115 replicates",
    "resolve": {"axis": {"x": "independent", "y": "independent"}},
    "layer": [
     {"mark": {"type": "rule", "strokeDash": [3, 3], "color": "#444444", "strokeWidth": 0.8},
      "encoding": {"y": {"datum": 0, "type": "quantitative", "scale": {"domain": [-4.93, 4.05], "nice": false, "zero": false}, "axis": {"orient": "left", "values": [3.75, 1.25, -1.25, -3.75], "labels": false, "ticks": false, "title": null, "gridColor": "#F3F3F3"}}}},
     {"mark": {"type": "rule", "strokeDash": [3, 3], "color": "#444444", "strokeWidth": 0.8},
      "encoding": {"x": {"datum": 0, "type": "quantitative", "scale": {"domain": [-9.54, 11.36], "nice": false, "zero": false}, "axis": {"orient": "bottom", "values": [-7.5, -2.5, 2.5, 7.5], "labels": false, "ticks": false, "title": null, "gridColor": "#F3F3F3"}}}},
     {"data": {"name": "d_ell"},
      "mark": {"type": "line", "interpolate": "cardinal-closed", "strokeWidth": 1, "fillOpacity": 0.16},
      "encoding": {
        "x": {"field": "x", "type": "quantitative", "axis": null},
        "y": {"field": "y", "type": "quantitative", "axis": null},
        "order": {"field": "i"},
        "stroke": {"field": "g", "type": "nominal", "scale": {"domain": ["HT115 chunk gen 1","HT115 chunk gen 3","HT115 chunk gen 5","HT115 chunk gen 7","HT115 wash gen 1","HT115 wash gen 3","HT115 wash gen 5","HT115 wash gen 7","_"], "range": ["#222222","#E8174B","#4FA8F2","#A23AB5","#6EDC45","#D4A414","#F8A47F","#4F7F60","#000000"]}, "legend": null},
        "fill": {"field": "g", "type": "nominal", "scale": {"domain": ["HT115 chunk gen 1","HT115 chunk gen 3","HT115 chunk gen 5","HT115 chunk gen 7","HT115 wash gen 1","HT115 wash gen 3","HT115 wash gen 5","HT115 wash gen 7","__"], "range": ["#222222","#E8174B","#4FA8F2","#A23AB5","#6EDC45","#D4A414","#F8A47F","#4F7F60","#000000"]}, "legend": null}}},
     {"data": {"name": "d_pts"},
      "mark": {"type": "point", "filled": false, "opacity": 1, "strokeWidth": 0.9},
      "encoding": {
        "x": {"field": "x", "type": "quantitative", "axis": {"orient": "bottom", "values": [-5, 0, 5, 10], "title": "Dim1 (65.4%)", "labelFontSize": 12, "titleFontSize": 12.5}},
        "y": {"field": "y", "type": "quantitative", "axis": {"orient": "left", "values": [-2.5, 0, 2.5], "format": ".1f", "title": "Dim2 (9%)", "labelFontSize": 12, "titleFontSize": 12.5}},
        "color": {"field": "g", "type": "nominal", "scale": {"domain": ["HT115 chunk gen 1","HT115 chunk gen 3","HT115 chunk gen 5","HT115 chunk gen 7","HT115 wash gen 1","HT115 wash gen 3","HT115 wash gen 5","HT115 wash gen 7"], "range": ["#222222","#E8174B","#4FA8F2","#A23AB5","#6EDC45","#D4A414","#F8A47F","#4F7F60"]}, "legend": {"title": "Generation", "orient": "none", "legendX": 315, "legendY": 86, "titleFontSize": 12.5, "labelFontSize": 12.5, "symbolSize": 130, "rowPadding": 2.5, "titlePadding": 5, "symbolStrokeWidth": 1}},
        "shape": {"field": "g", "type": "nominal", "scale": {"domain": ["HT115 chunk gen 1","HT115 chunk gen 3","HT115 chunk gen 5","HT115 chunk gen 7","HT115 wash gen 1","HT115 wash gen 3","HT115 wash gen 5","HT115 wash gen 7"], "range": ["M-1,0A1,1,0,1,0,1,0A1,1,0,1,0,-1,0ZM-0.45,0A0.45,0.45,0,1,0,0.45,0A0.45,0.45,0,1,0,-0.45,0Z","triangle-up","M-1,0L1,0M0,-1L0,1","M-0.8,-0.8L0.8,0.8M-0.8,0.8L0.8,-0.8","diamond","triangle-down","M-0.8,-0.8L0.8,-0.8L0.8,0.8L-0.8,0.8ZM-0.8,-0.8L0.8,0.8M-0.8,0.8L0.8,-0.8","M-1,0L1,0M0,-1L0,1M-0.7,-0.7L0.7,0.7M-0.7,0.7L0.7,-0.7"]}, "legend": {"title": "Generation", "orient": "none", "legendX": 315, "legendY": 86, "titleFontSize": 12.5, "labelFontSize": 12.5, "symbolSize": 130, "rowPadding": 2.5, "titlePadding": 5, "symbolStrokeWidth": 1}},
        "size": {"field": "m", "type": "nominal", "scale": {"domain": ["p","m"], "range": [40, 170]}, "legend": null}}}
    ]}]},
  {"title": {"text": "e", "orient": "left", "anchor": "end", "angle": 0, "align": "right", "baseline": "top", "fontSize": 20, "fontWeight": "bold", "offset": -7},
   "resolve": {"scale": {"color": "independent", "shape": "independent", "size": "independent", "stroke": "independent", "fill": "independent"}},
   "hconcat": [{
    "width": 303, "height": 344,
    "title": {"text": "M11 NA22 replicate data", "offset": 15, "dy": 5},
    "resolve": {"axis": {"x": "independent", "y": "independent"}},
    "layer": [
     {"mark": {"type": "rule", "strokeDash": [3, 3], "color": "#444444", "strokeWidth": 0.8},
      "encoding": {"y": {"datum": 0, "type": "quantitative", "scale": {"domain": [-8.19, 5.5], "nice": false, "zero": false}, "axis": {"orient": "left", "values": [3.75, 1.25, -1.25, -3.75, -6.25], "labels": false, "ticks": false, "title": null, "gridColor": "#F3F3F3"}}}},
     {"mark": {"type": "rule", "strokeDash": [3, 3], "color": "#444444", "strokeWidth": 0.8},
      "encoding": {"x": {"datum": 0, "type": "quantitative", "scale": {"domain": [-10.89, 7.63], "nice": false, "zero": false}, "axis": {"orient": "bottom", "values": [-7.5, -2.5, 2.5, 7.5], "labels": false, "ticks": false, "title": null, "gridColor": "#F3F3F3"}}}},
     {"data": {"name": "e_ell"},
      "mark": {"type": "line", "interpolate": "cardinal-closed", "strokeWidth": 1, "fillOpacity": 0.16},
      "encoding": {
        "x": {"field": "x", "type": "quantitative", "axis": null},
        "y": {"field": "y", "type": "quantitative", "axis": null},
        "order": {"field": "i"},
        "stroke": {"field": "g", "type": "nominal", "scale": {"domain": ["NA22 chunk gen 1","NA22 chunk gen 3","NA22 chunk gen 5","NA22 chunk gen 7","NA22 wash gen 1","NA22 wash gen 3","NA22 wash gen 5","NA22 wash gen 7","_"], "range": ["#222222","#E8174B","#4FA8F2","#A23AB5","#6EDC45","#D4A414","#F8A47F","#4F7F60","#000000"]}, "legend": null},
        "fill": {"field": "g", "type": "nominal", "scale": {"domain": ["NA22 chunk gen 1","NA22 chunk gen 3","NA22 chunk gen 5","NA22 chunk gen 7","NA22 wash gen 1","NA22 wash gen 3","NA22 wash gen 5","NA22 wash gen 7","__"], "range": ["#222222","#E8174B","#4FA8F2","#A23AB5","#6EDC45","#D4A414","#F8A47F","#4F7F60","#000000"]}, "legend": null}}},
     {"data": {"name": "e_pts"},
      "mark": {"type": "point", "filled": false, "opacity": 1, "strokeWidth": 0.9},
      "encoding": {
        "x": {"field": "x", "type": "quantitative", "axis": {"orient": "bottom", "values": [-10, -5, 0, 5], "title": "Dim1 (55.8%)", "labelFontSize": 12, "titleFontSize": 12.5, "titlePadding": 0}},
        "y": {"field": "y", "type": "quantitative", "axis": {"orient": "left", "values": [-7.5, -5, -2.5, 0, 2.5, 5], "format": ".1f", "title": "Dim2 (17.1%)", "labelFontSize": 12, "titleFontSize": 12.5}},
        "color": {"field": "g", "type": "nominal", "scale": {"domain": ["NA22 chunk gen 1","NA22 chunk gen 3","NA22 chunk gen 5","NA22 chunk gen 7","NA22 wash gen 1","NA22 wash gen 3","NA22 wash gen 5","NA22 wash gen 7"], "range": ["#222222","#E8174B","#4FA8F2","#A23AB5","#6EDC45","#D4A414","#F8A47F","#4F7F60"]}, "legend": {"title": "Generation", "orient": "none", "legendX": 315, "legendY": 99, "titleFontSize": 12.5, "labelFontSize": 12.5, "symbolSize": 130, "rowPadding": 2.5, "titlePadding": 5, "symbolStrokeWidth": 1}},
        "shape": {"field": "g", "type": "nominal", "scale": {"domain": ["NA22 chunk gen 1","NA22 chunk gen 3","NA22 chunk gen 5","NA22 chunk gen 7","NA22 wash gen 1","NA22 wash gen 3","NA22 wash gen 5","NA22 wash gen 7"], "range": ["M-1,0A1,1,0,1,0,1,0A1,1,0,1,0,-1,0ZM-0.45,0A0.45,0.45,0,1,0,0.45,0A0.45,0.45,0,1,0,-0.45,0Z","triangle-up","M-1,0L1,0M0,-1L0,1","M-0.8,-0.8L0.8,0.8M-0.8,0.8L0.8,-0.8","diamond","triangle-down","M-0.8,-0.8L0.8,-0.8L0.8,0.8L-0.8,0.8ZM-0.8,-0.8L0.8,0.8M-0.8,0.8L0.8,-0.8","M-1,0L1,0M0,-1L0,1M-0.7,-0.7L0.7,0.7M-0.7,0.7L0.7,-0.7"]}, "legend": {"title": "Generation", "orient": "none", "legendX": 315, "legendY": 99, "titleFontSize": 12.5, "labelFontSize": 12.5, "symbolSize": 130, "rowPadding": 2.5, "titlePadding": 5, "symbolStrokeWidth": 1}},
        "size": {"field": "m", "type": "nominal", "scale": {"domain": ["p","m"], "range": [40, 170]}, "legend": null}}}
    ]}]}
 ]}
]
}
